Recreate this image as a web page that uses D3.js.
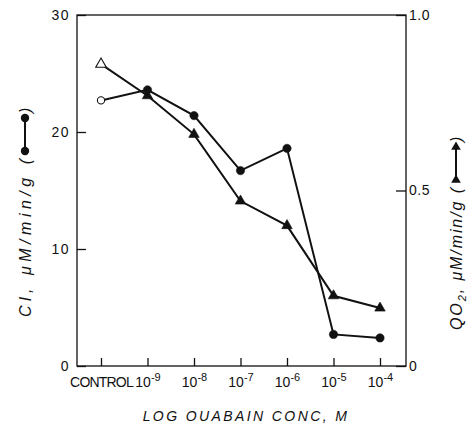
<!DOCTYPE html>
<html>
<head>
<meta charset="utf-8">
<script src="https://cdn.jsdelivr.net/npm/d3@7/dist/d3.min.js"></script>
<style>
  html, body { margin: 0; padding: 0; background: #fff; }
  svg text { font-family: "Liberation Sans", Arial, sans-serif; fill: #111; }
</style>
</head>
<body>
<svg id="chart" width="469" height="427"></svg>
<script>
// Ouabain concentrations (control first), chloride flux and oxygen consumption
const concentrations = ["CONTROL", "-9", "-8", "-7", "-6", "-5", "-4"];
const chlorideFlux = [22.7, 23.6, 21.4, 16.7, 18.6, 2.7, 2.4];     // Cl, µM/min/g
const oxygenUptake = [0.86, 0.77, 0.66, 0.47, 0.40, 0.20, 0.165];  // QO2, µM/min/g
const leftTicks = [0, 10, 20, 30];
const rightTicks = [0, 0.5, 1.0];
const rightTickLabels = ["0", "0.5", "1.0"];

const svg = d3.select("#chart");
const ink = "#111";

const x = d3.scalePoint().domain(concentrations).range([101, 380]);
const yLeft = d3.scaleLinear().domain([0, 30]).range([366, 15]);
const yRight = d3.scaleLinear().domain([0, 1]).range([366, 15]);

const x0 = 77, x1 = 406;

// plot frame
svg.append("rect")
  .attr("x", x0).attr("y", yLeft(30))
  .attr("width", x1 - x0).attr("height", yLeft(0) - yLeft(30))
  .attr("fill", "none").attr("stroke", ink).attr("stroke-width", 1.3);

// left axis, ticks pointing into the plot
const gLeft = svg.append("g").attr("transform", `translate(${x0},0)`)
  .call(d3.axisLeft(yLeft).tickValues(leftTicks).tickSize(-9).tickPadding(7));
gLeft.select(".domain").remove();
gLeft.selectAll("line").attr("stroke", ink).attr("stroke-width", 1.3);
gLeft.selectAll("text").attr("font-size", 14).attr("letter-spacing", 1.5);

// right axis
const gRight = svg.append("g").attr("transform", `translate(${x1},0)`)
  .call(d3.axisRight(yRight).tickValues(rightTicks).tickSize(-10).tickPadding(3)
    .tickFormat((d, i) => rightTickLabels[i]));
gRight.select(".domain").remove();
gRight.selectAll("line").attr("stroke", ink).attr("stroke-width", 1.3);
gRight.selectAll("text").attr("font-size", 14).attr("letter-spacing", 0.5);

// bottom axis with superscript exponents
const gBottom = svg.append("g").attr("transform", `translate(0,${yLeft(0)})`)
  .call(d3.axisBottom(x).tickSize(-8).tickPadding(8).tickFormat(() => ""));
gBottom.select(".domain").remove();
gBottom.selectAll("line").attr("stroke", ink).attr("stroke-width", 1.3);
gBottom.selectAll(".tick text").each(function(d) {
  const t = d3.select(this).attr("font-size", 14).attr("dy", "0.95em");
  if (d === "CONTROL") {
    t.text("CONTROL").attr("letter-spacing", -0.8);
  } else {
    t.append("tspan").text("10");
    t.append("tspan").text(d).attr("font-size", 11).attr("dy", -6);
  }
});

// series lines
const lineOf = (yScale) => d3.line()
  .x((d, i) => x(concentrations[i]))
  .y(d => yScale(d));

svg.append("path").datum(chlorideFlux)
  .attr("d", lineOf(yLeft))
  .attr("fill", "none").attr("stroke", ink).attr("stroke-width", 2);
svg.append("path").datum(oxygenUptake)
  .attr("d", lineOf(yRight))
  .attr("fill", "none").attr("stroke", ink).attr("stroke-width", 2);

// markers: control points are open, ouabain points filled
const tri = d3.symbol().type(d3.symbolTriangle).size(48);
svg.append("g").selectAll("path").data(oxygenUptake).join("path")
  .attr("d", tri)
  .attr("transform", (d, i) => `translate(${x(concentrations[i])},${yRight(d)})`)
  .attr("fill", (d, i) => i === 0 ? "#fff" : ink)
  .attr("stroke", ink).attr("stroke-width", (d, i) => i === 0 ? 1.1 : 0.6);

svg.append("g").selectAll("circle").data(chlorideFlux).join("circle")
  .attr("cx", (d, i) => x(concentrations[i]))
  .attr("cy", d => yLeft(d))
  .attr("r", (d, i) => i === 0 ? 3.6 : 4.2)
  .attr("fill", (d, i) => i === 0 ? "#fff" : ink)
  .attr("stroke", ink).attr("stroke-width", (d, i) => i === 0 ? 1.1 : 0.5);

// rotated axis titles with inline key glyphs
function axisTitle(cx, startY, span, label, marker) {
  const g = svg.append("g").attr("transform", `translate(${cx},${startY}) rotate(-90)`);
  const t = g.append("text").attr("font-size", 16).attr("font-style", "italic")
    .attr("dy", "0.35em").attr("textLength", span).attr("lengthAdjust", "spacing");
  label(t);
  const w = span + 8;
  const len = 33;
  g.append("line").attr("x1", w).attr("x2", w + len)
    .attr("stroke", ink).attr("stroke-width", 2);
  marker(g, w);
  marker(g, w + len);
  g.append("text").attr("x", w + len + 5).attr("font-size", 16)
    .attr("font-style", "italic").attr("dy", "0.35em").text(")");
}

axisTitle(25, 317, 158, t => t.text("Cl, μM/min/g ("), (g, px) =>
  g.append("circle").attr("cx", px).attr("cy", 0).attr("r", 4.2).attr("fill", ink));

axisTitle(456, 330, 142, t => {
  t.append("tspan").text("QO");
  t.append("tspan").text("2").attr("font-size", 11).attr("dy", 4);
  t.append("tspan").text(", μM/min/g (").attr("dy", -4);
}, (g, px) =>
  g.append("path").attr("d", d3.symbol().type(d3.symbolTriangle).size(40))
    .attr("transform", `translate(${px},0) rotate(90)`).attr("fill", ink));

// x-axis title
svg.append("text")
  .attr("x", 246).attr("y", 421)
  .attr("text-anchor", "middle")
  .attr("font-size", 14).attr("font-style", "italic").attr("letter-spacing", 2.4)
  .text("LOG OUABAIN CONC, M");
</script>
</body>
</html>
